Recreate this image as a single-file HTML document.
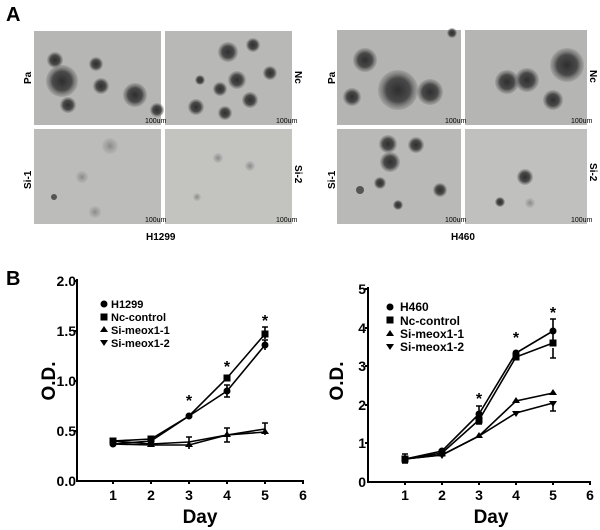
<!DOCTYPE html><html><head><style>body{margin:0;background:#fff;width:600px;height:530px;overflow:hidden}svg{display:block}</style></head><body>
<svg width="600" height="530" xmlns="http://www.w3.org/2000/svg" font-family="Liberation Sans, Arial, sans-serif" font-weight="bold">
<defs>
<radialGradient id="b"><stop offset="0" stop-color="#2e2e2e"/><stop offset="0.6" stop-color="#4a4a4a"/><stop offset="1" stop-color="#7a7a7a" stop-opacity="0.3"/></radialGradient>
<radialGradient id="l"><stop offset="0" stop-color="#888"/><stop offset="1" stop-color="#999" stop-opacity="0.2"/></radialGradient>
</defs>
<text x="6" y="21" font-size="20">A</text>
<text x="6" y="285" font-size="20">B</text>
<g>
<rect x="34" y="31" width="127" height="94" fill="#b6b7b4"/>
<circle cx="62" cy="81" r="16" fill="url(#b)"/><circle cx="55" cy="60" r="8" fill="url(#b)"/><circle cx="135" cy="95" r="12" fill="url(#b)"/><circle cx="101" cy="86" r="8" fill="url(#b)"/><circle cx="96" cy="64" r="7" fill="url(#b)"/><circle cx="68" cy="105" r="8" fill="url(#b)"/><circle cx="157" cy="110" r="7" fill="url(#b)"/>
<rect x="165" y="31" width="127" height="94" fill="#b8b9b6"/>
<circle cx="228" cy="52" r="10" fill="url(#b)"/><circle cx="237" cy="80" r="9" fill="url(#b)"/><circle cx="220" cy="89" r="7" fill="url(#b)"/><circle cx="250" cy="100" r="8" fill="url(#b)"/><circle cx="196" cy="107" r="8" fill="url(#b)"/><circle cx="253" cy="45" r="7" fill="url(#b)"/><circle cx="270" cy="73" r="7" fill="url(#b)"/><circle cx="200" cy="80" r="5" fill="url(#b)"/><circle cx="225" cy="113" r="7" fill="url(#b)"/>
<rect x="34" y="129" width="127" height="95" fill="#bcbdba"/>
<circle cx="110" cy="146" r="8" fill="url(#l)"/><circle cx="82" cy="177" r="6" fill="url(#l)"/><circle cx="95" cy="212" r="6" fill="url(#l)"/><circle cx="54" cy="197" r="3" fill="#555"/>
<rect x="165" y="129" width="127" height="95" fill="#c3c3c0"/>
<circle cx="218" cy="158" r="5" fill="url(#l)"/><circle cx="250" cy="166" r="5" fill="url(#l)"/><circle cx="197" cy="197" r="4" fill="url(#l)"/>
<rect x="337" y="30" width="124" height="95" fill="#b4b5b2"/>
<circle cx="365" cy="60" r="12" fill="url(#b)"/><circle cx="398" cy="90" r="20" fill="url(#b)"/><circle cx="430" cy="92" r="13" fill="url(#b)"/><circle cx="352" cy="97" r="9" fill="url(#b)"/><circle cx="452" cy="33" r="5" fill="url(#b)"/>
<rect x="465" y="30" width="122" height="95" fill="#b5b6b3"/>
<circle cx="567" cy="65" r="17" fill="url(#b)"/><circle cx="507" cy="82" r="12" fill="url(#b)"/><circle cx="527" cy="80" r="12" fill="url(#b)"/><circle cx="553" cy="100" r="10" fill="url(#b)"/>
<rect x="337" y="129" width="124" height="95" fill="#b9bab7"/>
<circle cx="388" cy="144" r="9" fill="url(#b)"/><circle cx="390" cy="162" r="10" fill="url(#b)"/><circle cx="416" cy="145" r="8" fill="url(#b)"/><circle cx="380" cy="183" r="6" fill="url(#b)"/><circle cx="440" cy="190" r="7" fill="url(#b)"/><circle cx="398" cy="205" r="5" fill="url(#b)"/><circle cx="360" cy="190" r="4" fill="#555"/>
<rect x="465" y="129" width="122" height="95" fill="#c0c1be"/>
<circle cx="525" cy="177" r="8" fill="url(#b)"/><circle cx="500" cy="202" r="5" fill="url(#b)"/><circle cx="530" cy="203" r="5" fill="url(#l)"/>
</g>
<g font-size="7" font-weight="normal">
<text x="145" y="123">100um</text><text x="276" y="123">100um</text><text x="145" y="222">100um</text><text x="276" y="222">100um</text>
<text x="445" y="123">100um</text><text x="571" y="123">100um</text><text x="445" y="222">100um</text><text x="571" y="222">100um</text>
</g>
<g font-size="10">
<text transform="translate(31,84) rotate(-90)">Pa</text>
<text transform="translate(31,189) rotate(-90)">Si-1</text>
<text transform="translate(295,71) rotate(90)">Nc</text>
<text transform="translate(295,165) rotate(90)">Si-2</text>
<text transform="translate(335,84) rotate(-90)">Pa</text>
<text transform="translate(335,189) rotate(-90)">Si-1</text>
<text transform="translate(590,70) rotate(90)">Nc</text>
<text transform="translate(590,163) rotate(90)">Si-2</text>
<text x="146" y="240" font-size="10">H1299</text>
<text x="451" y="240" font-size="10">H460</text>
</g>
<!-- left chart -->
<g stroke="#000" stroke-width="2" fill="none">
<path d="M77,279 V481 H304"/>
<path d="M74,281H77M74,331H77M74,381H77M74,431H77M113,481v3M151,481v3M189,481v3M227,481v3M265,481v3M303,481v3"/>
</g>
<g font-size="14" text-anchor="end"><text x="76" y="286">2.0</text><text x="76" y="336">1.5</text><text x="76" y="386">1.0</text><text x="76" y="436">0.5</text><text x="76" y="486">0.0</text></g>
<g font-size="14" text-anchor="middle"><text x="113" y="500">1</text><text x="151" y="500">2</text><text x="189" y="500">3</text><text x="227" y="500">4</text><text x="265" y="500">5</text><text x="303" y="500">6</text>
<text x="200" y="523" font-size="19">Day</text>
<text transform="translate(55,381) rotate(-90)" font-size="19">O.D.</text></g>
<g stroke="#000" stroke-width="1.6" fill="none">
<polyline points="113,444 151,441 189,416 227,391 265,345"/>
<polyline points="113,441 151,439 189,416 227,378 265,334"/>
<polyline points="113,444 151,445 189,445 227,435 265,432"/>
<polyline points="113,441 151,444 189,442 227,435 265,429"/>
<path d="M227,385v12M224,385h6M224,397h6M265,340v10M262,340h6M265,327v12M262,327h6M189,437v12M186,437h6M227,428v14M224,428h6M224,442h6M265,423v12M262,423h6"/>
</g>
<g fill="#000">
<circle cx="113" cy="444" r="3.5"/><circle cx="151" cy="441" r="3.5"/><circle cx="189" cy="416" r="3.5"/><circle cx="227" cy="391" r="3.5"/><circle cx="265" cy="345" r="3.5"/>
<rect x="109.5" y="437.5" width="7" height="7"/><rect x="147.5" y="435.5" width="7" height="7"/><rect x="223.5" y="374.5" width="7" height="7"/><rect x="261.5" y="330.5" width="7" height="7"/>
<path d="M189,441l4,6h-8zM265,428l4,6h-8zM227,431l4,6h-8zM151,441l4,6h-8z"/>
<text x="189" y="406" font-size="16" text-anchor="middle">*</text><text x="227" y="372" font-size="16" text-anchor="middle">*</text><text x="265" y="326" font-size="16" text-anchor="middle">*</text>
</g>
<g font-size="11">
<circle cx="104" cy="304" r="3.5"/><text x="111" y="308">H1299</text>
<rect x="100.5" y="313.5" width="7" height="7"/><text x="111" y="321">Nc-control</text>
<path d="M104,326l4,6h-8z"/><text x="111" y="334">Si-meox1-1</text>
<path d="M100,340h8l-4,6z"/><text x="111" y="347">Si-meox1-2</text>
</g>
<!-- right chart -->
<g stroke="#000" stroke-width="2" fill="none">
<path d="M368,287 V482 H591"/>
<path d="M365,289H368M365,328H368M365,366H368M365,405H368M365,443H368M405,482v3M442,482v3M479,482v3M516,482v3M553,482v3M590,482v3"/>
</g>
<g font-size="14" text-anchor="end"><text x="366" y="294">5</text><text x="366" y="333">4</text><text x="366" y="371">3</text><text x="366" y="410">2</text><text x="366" y="448">1</text><text x="366" y="487">0</text></g>
<g font-size="14" text-anchor="middle"><text x="405" y="500">1</text><text x="442" y="500">2</text><text x="479" y="500">3</text><text x="516" y="500">4</text><text x="553" y="500">5</text><text x="590" y="500">6</text>
<text x="491" y="523" font-size="19">Day</text>
<text transform="translate(343,381) rotate(-90)" font-size="19">O.D.</text></g>
<g stroke="#000" stroke-width="1.6" fill="none">
<polyline points="405,459 442,451 479,414 516,353 553,331"/>
<polyline points="405,459 442,453 479,420 516,357 553,343"/>
<polyline points="405,459 442,455 479,436 516,401 553,393"/>
<polyline points="405,459 442,455 479,436 516,413 553,403"/>
<path d="M479,406v18M476,406h6M476,424h6M553,319v22M550,319h6M553,348v10M550,358h6M405,454v9M402,454h6M402,463h6M553,405v6M550,411h6"/>
</g>
<g fill="#000">
<circle cx="405" cy="459" r="3.5"/><circle cx="442" cy="451" r="3.5"/><circle cx="479" cy="414" r="3.5"/><circle cx="516" cy="353" r="3.5"/><circle cx="553" cy="331" r="3.5"/>
<rect x="401.5" y="455.5" width="7" height="7"/><rect x="438.5" y="449.5" width="7" height="7"/><rect x="475.5" y="416.5" width="7" height="7"/><rect x="512.5" y="353.5" width="7" height="7"/><rect x="549.5" y="339.5" width="7" height="7"/>
<path d="M516,397l4,6h-8zM553,389l4,6h-8zM479,432l4,6h-8z"/>
<path d="M512,411h8l-4,6zM549,401h8l-4,6zM438,453h8l-4,6z"/>
<text x="479" y="404" font-size="16" text-anchor="middle">*</text><text x="516" y="343" font-size="16" text-anchor="middle">*</text><text x="553" y="318" font-size="16" text-anchor="middle">*</text>
</g>
<g font-size="12">
<circle cx="390" cy="307" r="3.5"/><text x="400" y="311">H460</text>
<rect x="386.5" y="316.5" width="7" height="7"/><text x="400" y="325">Nc-control</text>
<path d="M390,330l4,6h-8z"/><text x="400" y="338">Si-meox1-1</text>
<path d="M386,344h8l-4,6z"/><text x="400" y="351">Si-meox1-2</text>
</g>
</svg>
</body></html>
